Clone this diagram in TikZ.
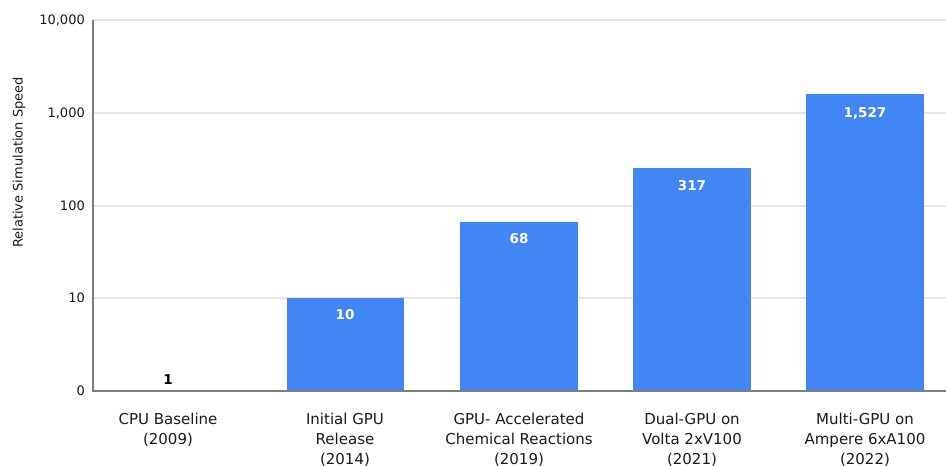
\documentclass[tikz,border=0pt]{standalone}
\usepackage{fontspec}
\setmainfont{DejaVu Sans}
\definecolor{barblue}{HTML}{4285F4}
\definecolor{gridgray}{HTML}{E6E6E6}
\definecolor{axisgray}{HTML}{7F7F7F}
\definecolor{txt}{HTML}{1A1A1A}
\tikzset{
  gridline/.style={draw=gridgray, line width=1.3pt},
  axisline/.style={draw=axisgray, line width=1.3pt},
  bar/.style={fill=barblue},
  ticklab/.style={font=\fontsize{13}{15}\selectfont, text=txt, anchor=base east, inner sep=0pt},
  vallab/.style={font=\fontsize{13.5}{15}\bfseries\selectfont, text=white, anchor=base, inner sep=0pt},
  catlab/.style={font=\fontsize{15}{20}\selectfont, text=txt, anchor=north, align=center, inner sep=0pt},
}
\begin{document}
\begin{tikzpicture}[x=1pt,y=-1pt]
\useasboundingbox (0,0) rectangle (946,466);
% grid lines
\foreach \yy in {20,113,206,298} { \draw[gridline] (93,\yy) -- (946,\yy); }
% bars
\fill[bar] (286.5,298) rectangle (404,391);
\fill[bar] (460,222) rectangle (578,391);
\fill[bar] (633,168) rectangle (751,391);
\fill[bar] (806,94) rectangle (924,391);
% axes
\draw[axisline] (93,20) -- (93,391) -- (946,391);
% tick labels
\node[ticklab] (t4) at (85,24.7) {10,000};
\node[ticklab] (t3) at (85,117.7) {1,000};
\node[ticklab] (t2) at (85,210.7) {100};
\node[ticklab] (t1) at (85,302.7) {10};
\node[ticklab] (t0) at (85,395.7) {0};
% axis title
\node[font=\fontsize{13}{15}\selectfont, text=txt, rotate=90, inner sep=0pt] (ytitle) at (19,162.5) {Relative Simulation Speed};
% value labels
\node[vallab, text=black] (v1) at (168,384) {1};
\node[vallab] (v2) at (345,319) {10};
\node[vallab] (v3) at (519,243) {68};
\node[vallab] (v4) at (692,190) {317};
\node[vallab] (v5) at (865,117) {1,527};
% category labels
\node[catlab] (c1) at (168,413) {CPU Baseline\\(2009)};
\node[catlab] (c2) at (345,413) {Initial GPU\\Release\\(2014)};
\node[catlab] (c3) at (519,413) {GPU- Accelerated\\Chemical Reactions\\(2019)};
\node[catlab] (c4) at (692,413) {Dual-GPU on\\Volta 2xV100\\(2021)};
\node[catlab] (c5) at (865,413) {Multi-GPU on\\Ampere 6xA100\\(2022)};
\end{tikzpicture}
\end{document}
